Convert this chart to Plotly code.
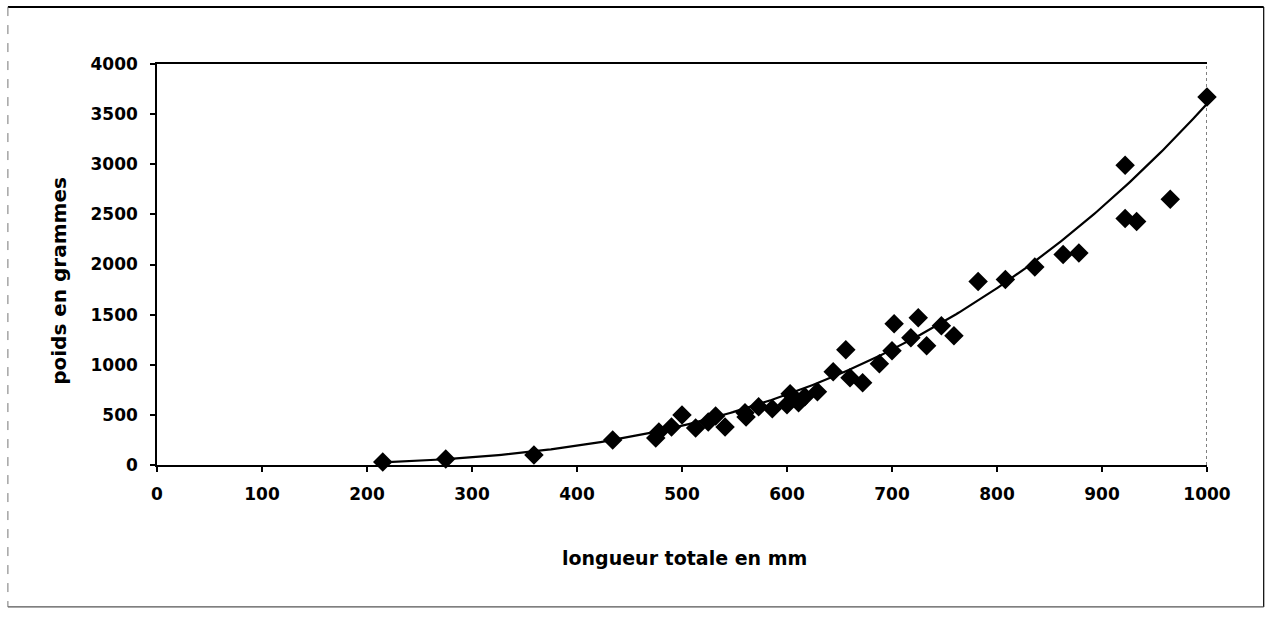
import numpy as np
import plotly.graph_objects as go

# Longueur totale (mm) et poids (g) des individus mesurés
longueur_mm = [215, 275, 359, 434, 475, 478, 490, 500, 513, 525, 532, 541,
               560, 561, 573, 586, 600, 603, 611, 617, 629, 644, 656, 660,
               672, 688, 700, 702, 718, 725, 733, 747, 759, 782, 808, 836,
               863, 878, 922, 922, 933, 965, 1000]
poids_g = [30, 60, 100, 250, 270, 330, 380, 500, 370, 430, 490, 380,
           520, 480, 580, 560, 600, 710, 620, 680, 730, 930, 1150, 870,
           820, 1010, 1140, 1410, 1270, 1470, 1190, 1390, 1290, 1830, 1850, 1975,
           2100, 2115, 2990, 2460, 2430, 2650, 3670]

x_ticks = list(range(0, 1001, 100))
y_ticks = list(range(0, 4001, 500))

# Courbe de tendance puissance : poids = a * longueur^b
tendance_a = 9.05e-7
tendance_b = 3.2
x_fit = np.linspace(min(longueur_mm), max(longueur_mm), 300)
y_fit = tendance_a * x_fit ** tendance_b

FONT = "DejaVu Sans"

fig = go.Figure()
fig.add_trace(go.Scatter(
    x=x_fit, y=y_fit, mode="lines",
    line=dict(color="black", width=2.2),
    hoverinfo="skip", showlegend=False, cliponaxis=False,
))
fig.add_trace(go.Scatter(
    x=longueur_mm, y=poids_g, mode="markers",
    marker=dict(symbol="diamond", size=15, color="black"),
    showlegend=False, cliponaxis=False,
))

axis_common = dict(
    showgrid=False, zeroline=False, showline=True,
    linecolor="black", linewidth=1.5,
    ticks="outside", ticklen=5, tickwidth=1.5, tickcolor="black",
    tickfont=dict(family=FONT, size=17, color="black", weight="bold"),
)

fig.update_xaxes(range=[0, 1000], tickvals=x_ticks, mirror=True,
                 ticklabelstandoff=8, **axis_common)
fig.update_yaxes(range=[0, 4000], tickvals=y_ticks,
                 ticklabelstandoff=9, **axis_common)

shapes = [
    # bord droit pointillé de la zone de tracé
    dict(type="line", xref="x", yref="y", x0=1000, x1=1000, y0=0, y1=4000,
         line=dict(color="black", width=1, dash="dot"), layer="below"),
    # cadre extérieur du graphique
    dict(type="line", xref="paper", yref="paper", x0=-0.142, x1=1.054,
         y0=1.142, y1=1.142, line=dict(color="black", width=2)),
    dict(type="line", xref="paper", yref="paper", x0=1.054, x1=1.054,
         y0=1.142, y1=-0.354, line=dict(color="black", width=1.2)),
    dict(type="line", xref="paper", yref="paper", x0=-0.142, x1=1.054,
         y0=-0.354, y1=-0.354, line=dict(color="#555555", width=1.2)),
    dict(type="line", xref="paper", yref="paper", x0=-0.142, x1=-0.142,
         y0=1.142, y1=-0.354, line=dict(color="#777777", width=1, dash="dash")),
]

annotations = [
    dict(text="longueur totale en mm", xref="paper", yref="paper",
         x=0.502, y=-0.232, xanchor="center", yanchor="middle",
         showarrow=False,
         font=dict(family=FONT, size=19, color="black", weight="bold")),
    dict(text="poids en grammes", xref="paper", yref="paper",
         x=-0.094, y=0.46, xanchor="center", yanchor="middle",
         textangle=-90, showarrow=False,
         font=dict(family=FONT, size=20, color="black", weight="bold")),
]

fig.update_layout(
    width=1274, height=622,
    margin=dict(l=157, r=67, t=64, b=157),
    paper_bgcolor="white", plot_bgcolor="white",
    shapes=shapes, annotations=annotations,
)

fig.write_html("out.html")
